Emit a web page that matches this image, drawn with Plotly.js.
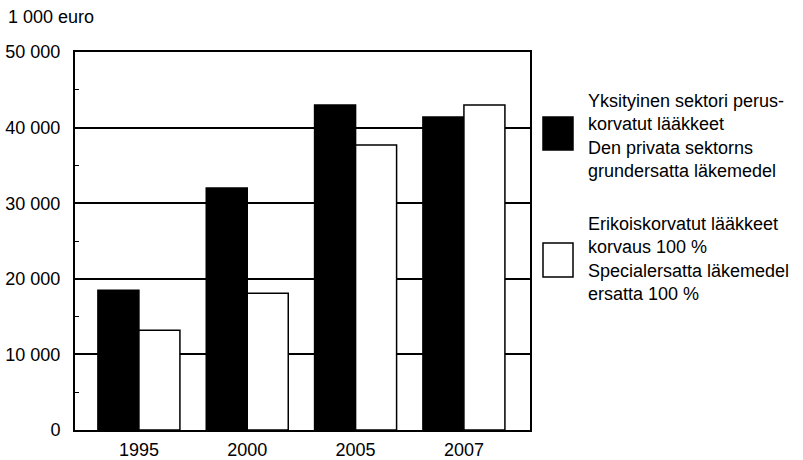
<!DOCTYPE html>
<html>
<head>
<meta charset="utf-8">
<script src="https://cdn.plot.ly/plotly-3.0.1.min.js"></script>
<style>html,body{margin:0;padding:0;background:#fff;}#chart{width:803px;height:460px;}</style>
</head>
<body>
<div id="chart"></div>
<script>
// Data
const years = ['1995', '2000', '2005', '2007'];
const basicReimbursed = [18500, 32000, 43000, 41400];
const specialReimbursed = [13200, 18100, 37700, 43000];
const seriesNames = [
  'Yksityinen sektori perus-<br>korvatut lääkkeet<br>Den privata sektorns<br>grundersatta läkemedel',
  'Erikoiskorvatut lääkkeet<br>korvaus 100 %<br>Specialersatta läkemedel<br>ersatta 100 %'
];
const yUnit = '1 000 euro';

const W = 803, H = 460;
const M = {l: 75, r: 273, t: 52, b: 30};
const pw = W - M.l - M.r, ph = H - M.t - M.b;
const px = x => (x - M.l) / pw;
const py = y => (H - M.b - y) / ph;

const FONT = {family: 'Arial', size: 18, color: '#000'};

const traces = [
  {type: 'bar', x: years, y: basicReimbursed, name: seriesNames[0],
   marker: {color: '#000', line: {color: '#000', width: 1.5}}},
  {type: 'bar', x: years, y: specialReimbursed, name: seriesNames[1],
   marker: {color: '#fff', line: {color: '#000', width: 1.5}}}
];

const shapes = [
  {type: 'rect', xref: 'paper', yref: 'paper', x0: px(543), x1: px(573), y0: py(150), y1: py(117),
   fillcolor: '#000', line: {color: '#000', width: 1.5}},
  {type: 'rect', xref: 'paper', yref: 'paper', x0: px(543), x1: px(573), y0: py(277), y1: py(243),
   fillcolor: '#fff', line: {color: '#000', width: 1.5}}
];

const annotations = [
  {xref: 'paper', yref: 'paper', x: px(6), y: py(17), xanchor: 'left', yanchor: 'middle',
   text: yUnit, showarrow: false, font: FONT},
  {xref: 'paper', yref: 'paper', x: px(586), y: py(136), xanchor: 'left', yanchor: 'middle',
   text: seriesNames[0], showarrow: false, align: 'left', font: FONT},
  {xref: 'paper', yref: 'paper', x: px(586), y: py(259), xanchor: 'left', yanchor: 'middle',
   text: seriesNames[1], showarrow: false, align: 'left', font: FONT}
];

const layout = {
  width: W, height: H,
  margin: M,
  paper_bgcolor: '#fff', plot_bgcolor: '#fff',
  font: FONT,
  separators: ', ',
  showlegend: false,
  barmode: 'group',
  bargap: 0.243,
  bargroupgap: 0,
  xaxis: {
    type: 'category', range: [-0.59, 3.61],
    showline: true, linecolor: '#000', linewidth: 2, mirror: true,
    ticks: '', showgrid: false, tickfont: FONT, ticklabelstandoff: 2
  },
  yaxis: {
    range: [0, 50000], dtick: 10000, tickformat: ',d',
    showline: true, linecolor: '#000', linewidth: 2, mirror: true,
    showgrid: true, gridcolor: '#000', gridwidth: 2,
    zeroline: false, ticks: '', tickfont: FONT, ticklabelstandoff: 9,
    minor: {dtick: 5000, ticks: 'inside', ticklen: 4, tickcolor: '#000', tickwidth: 1, showgrid: false}
  },
  shapes: shapes,
  annotations: annotations
};

Plotly.newPlot('chart', traces, layout, {displayModeBar: false, staticPlot: true});
</script>
</body>
</html>
